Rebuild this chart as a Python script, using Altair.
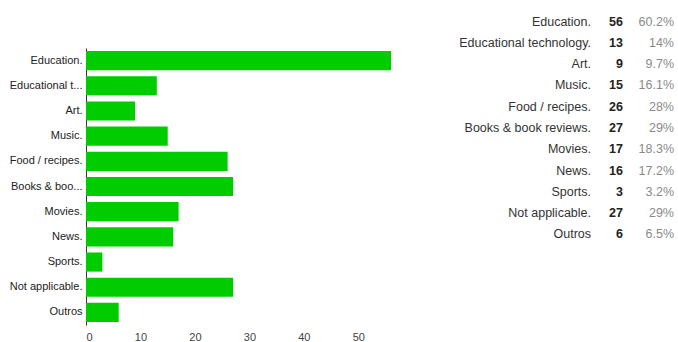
import altair as alt
import pandas as pd

axis_labels = ["Education.", "Educational t...", "Art.", "Music.", "Food / recipes.",
               "Books & boo...", "Movies.", "News.", "Sports.", "Not applicable.", "Outros"]
full_labels = ["Education.", "Educational technology.", "Art.", "Music.", "Food / recipes.",
               "Books & book reviews.", "Movies.", "News.", "Sports.", "Not applicable.", "Outros"]
counts = [56, 13, 9, 15, 26, 27, 17, 16, 3, 27, 6]
percents = ["60.2%", "14%", "9.7%", "16.1%", "28%", "29%", "18.3%", "17.2%", "3.2%", "29%", "6.5%"]
x_ticks = [0, 10, 20, 30, 40, 50]

FONT = "Liberation Sans"

bar_df = pd.DataFrame({"label": axis_labels, "count": counts})
tab_df = pd.DataFrame({"name": full_labels, "count": counts, "pct": percents})

bars = alt.Chart(bar_df).mark_bar(color="#00cc00").encode(
    x=alt.X("count:Q",
            scale=alt.Scale(domain=[0, 56], nice=False, zero=True),
            axis=alt.Axis(values=x_ticks, title=None, grid=False, domain=False, ticks=False,
                          labelFont=FONT, labelFontSize=11, labelColor="#444",
                          labelPadding=6, minExtent=17, maxExtent=17)),
    y=alt.Y("label:N", sort=axis_labels,
            scale=alt.Scale(range=[37, 314], paddingInner=0.24, paddingOuter=0.12),
            axis=alt.Axis(title=None, ticks=False, domainColor="#333", domainWidth=1,
                          labelFont=FONT, labelFontSize=11, labelColor="#222",
                          labelPadding=4, labelLimit=200, minExtent=80, maxExtent=80)),
).properties(width=305, height=314)

ybase = alt.Y("name:N", sort=full_labels,
              scale=alt.Scale(range=[0, 234], paddingInner=0, paddingOuter=0),
              axis=None)

tbase = alt.Chart(tab_df)
t_label = tbase.mark_text(align="right", baseline="middle", font=FONT, fontSize=12.5,
                          color="#333").encode(x=alt.value(190), y=ybase, text="name:N")
t_count = tbase.mark_text(align="right", baseline="middle", font=FONT, fontSize=12.5,
                          fontWeight="bold", color="#222").encode(
    x=alt.value(222), y=ybase, text="count:Q")
t_pct = tbase.mark_text(align="right", baseline="middle", font=FONT, fontSize=12.5,
                        color="#8a8a8a").encode(x=alt.value(273), y=ybase, text="pct:N")

table = alt.layer(t_label, t_count, t_pct).properties(width=277, height=314)

chart = alt.hconcat(bars, table, spacing=10).properties(
    padding={"left": 6, "top": 11, "right": 0, "bottom": 0},
).configure_view(stroke=None)

chart.save("out.html", embed_options={"renderer": "svg", "actions": False})
